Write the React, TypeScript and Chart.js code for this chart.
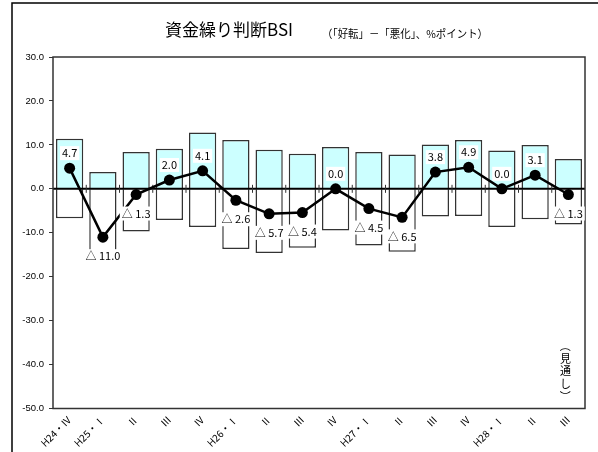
import React, { useEffect, useRef } from "react";
import { Chart, registerables } from "chart.js";

Chart.register(...registerables);

const categories = [
  "H24・Ⅳ", "H25・Ⅰ", "Ⅱ", "Ⅲ", "Ⅳ", "H26・Ⅰ", "Ⅱ", "Ⅲ",
  "Ⅳ", "H27・Ⅰ", "Ⅱ", "Ⅲ", "Ⅳ", "H28・Ⅰ", "Ⅱ", "Ⅲ",
];
const improved = [11.4, 3.8, 8.4, 9.1, 12.8, 11.1, 8.9, 8.0, 9.5, 8.4, 7.8, 10.1, 11.1, 8.7, 10.0, 6.8];
const worsened = [-6.7, -14.8, -9.7, -7.1, -8.7, -13.7, -14.6, -13.4, -9.5, -12.9, -14.3, -6.3, -6.2, -8.7, -6.9, -8.1];
const bsi = [4.7, -11.0, -1.3, 2.0, 4.1, -2.6, -5.7, -5.4, 0.0, -4.5, -6.5, 3.8, 4.9, 0.0, 3.1, -1.3];
const yTicks = { min: -50, max: 30, step: 10 };
const titleText = "資金繰り判断BSI";
const subtitleText = "（「好転」－「悪化」、%ポイント）";
const forecastChars = ["（", "見", "通", "し", "）"];

const JP = '"Noto Sans CJK JP", "Noto Sans", sans-serif';

function fmtLabel(v: number): string {
  return v < 0 ? "△ " + Math.abs(v).toFixed(1) : v.toFixed(1);
}

const decoPlugin = {
  id: "deco",
  beforeDraw(chart: any) {
    const ctx = chart.ctx;
    ctx.save();
    ctx.fillStyle = "#fff";
    ctx.fillRect(0, 0, chart.width, chart.height);
    ctx.strokeStyle = "#000";
    ctx.lineWidth = 1.5;
    ctx.strokeRect(12, 3, chart.width + 50, chart.height + 50);
    ctx.restore();
  },
  beforeDatasetDraw(chart: any, args: any) {
    if (args.index !== 2) return;
    const ctx = chart.ctx;
    const area = chart.chartArea;
    const y0 = chart.scales.y.getPixelForValue(0);
    ctx.save();
    ctx.strokeStyle = "#000";
    ctx.lineWidth = 2;
    ctx.beginPath();
    ctx.moveTo(area.left, y0);
    ctx.lineTo(area.right, y0);
    ctx.stroke();
    const xs = chart.scales.x;
    const n = categories.length;
    ctx.lineWidth = 1;
    ctx.strokeStyle = "#333";
    for (let i = 1; i < n; i++) {
      const bx = (xs.getPixelForValue(i - 1) + xs.getPixelForValue(i)) / 2;
      ctx.beginPath();
      ctx.moveTo(bx, y0 - 4);
      ctx.lineTo(bx, y0 + 4);
      ctx.stroke();
    }
    ctx.restore();
  },
  afterDatasetsDraw(chart: any) {
    const ctx = chart.ctx;
    const area = chart.chartArea;
    const xs = chart.scales.x;
    const ys = chart.scales.y;
    ctx.save();
    ctx.strokeStyle = "#333";
    ctx.lineWidth = 1.5;
    ctx.strokeRect(area.left, area.top, area.right - area.left, area.bottom - area.top);

    ctx.font = "11px " + JP;
    ctx.textAlign = "center";
    ctx.textBaseline = "middle";
    bsi.forEach((v, i) => {
      const px = xs.getPixelForValue(i);
      const py = ys.getPixelForValue(v);
      const txt = fmtLabel(v);
      const cy = v >= 0 ? py - 15 : py + 19;
      const w = ctx.measureText(txt).width + 4;
      ctx.fillStyle = "#fff";
      ctx.fillRect(px - w / 2, cy - 7, w, 14);
      ctx.fillStyle = "#000";
      ctx.fillText(txt, px, cy);
    });

    ctx.textAlign = "left";
    ctx.textBaseline = "middle";
    ctx.font = "17px " + JP;
    ctx.fillStyle = "#000";
    ctx.fillText(titleText, 165, 30, 136);
    ctx.font = "11px " + JP;
    ctx.fillText(subtitleText, 322, 34, 166);

    const fx = xs.getPixelForValue(categories.length - 1) - 3;
    ctx.textAlign = "center";
    ctx.font = "11px " + JP;
    forecastChars.forEach((c, k) => {
      const cy = 346 + k * 12.5;
      if (c === "（" || c === "）") {
        ctx.save();
        ctx.translate(fx, cy);
        ctx.rotate(Math.PI / 2);
        ctx.fillText(c, 0, 0);
        ctx.restore();
      } else {
        ctx.fillText(c, fx, cy);
      }
    });
    ctx.restore();
  },
};

export default function App() {
  const ref = useRef<HTMLCanvasElement>(null);
  useEffect(() => {
    const canvas = ref.current;
    if (!canvas) return;
    const chart = new Chart(canvas, {
      type: "bar",
      data: {
        labels: categories,
        datasets: [
          {
            type: "bar",
            label: "好転",
            data: improved,
            backgroundColor: "#CCFFFF",
            borderColor: "#333",
            borderWidth: 1.5,
            barPercentage: 0.82,
            categoryPercentage: 1,
            grouped: false,
            order: 2,
          } as any,
          {
            type: "bar",
            label: "悪化",
            data: worsened,
            backgroundColor: "#FFFFFF",
            borderColor: "#333",
            borderWidth: 1.5,
            barPercentage: 0.82,
            categoryPercentage: 1,
            grouped: false,
            order: 1,
          } as any,
          {
            type: "line",
            label: "BSI",
            data: bsi,
            borderColor: "#000",
            borderWidth: 2.5,
            pointRadius: 5.5,
            pointBackgroundColor: "#000",
            pointBorderColor: "#000",
            pointBorderWidth: 0,
            tension: 0,
            order: 0,
          } as any,
        ],
      },
      options: {
        responsive: false,
        animation: false,
        devicePixelRatio: 1,
        layout: { padding: { top: 57, right: 13, left: 0, bottom: 0 } },
        plugins: {
          legend: { display: false },
          tooltip: { enabled: false },
          title: { display: false },
        },
        scales: {
          x: {
            offset: true,
            grid: { display: false, drawTicks: false },
            border: { display: false },
            ticks: {
              maxRotation: 45,
              minRotation: 45,
              autoSkip: false,
              padding: 5,
              color: "#000",
              font: { size: 10, family: JP },
            },
            afterFit: (s: any) => {
              s.height = 43.5;
            },
          },
          y: {
            min: yTicks.min,
            max: yTicks.max,
            ticks: {
              stepSize: yTicks.step,
              color: "#000",
              padding: 5,
              font: { size: 9.5, family: '"Liberation Sans", Arial, sans-serif' },
              callback: (v: any) => Number(v).toFixed(1),
            },
            grid: { drawOnChartArea: false, drawTicks: true, tickLength: 4, color: "#333" },
            border: { display: false },
            afterFit: (s: any) => {
              s.width = 53;
            },
          },
        },
      },
      plugins: [decoPlugin],
    });
    return () => chart.destroy();
  }, []);
  return (
    <div style={{ position: "fixed", left: 0, top: 0, width: 598, height: 452, background: "#fff" }}>
      <canvas ref={ref} width={598} height={452} style={{ display: "block" }} />
    </div>
  );
}
